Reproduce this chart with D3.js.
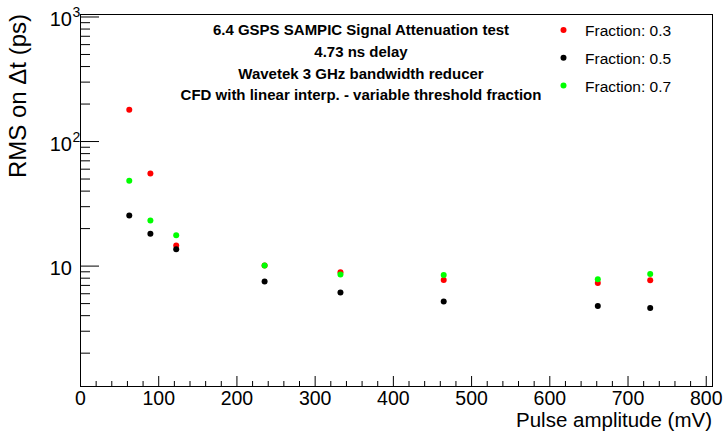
<!DOCTYPE html>
<html lang="en">
<head>
<meta charset="utf-8">
<script src="https://d3js.org/d3.v7.min.js"></script>
<style>
  body { margin: 0; background: #fff; }
  text { font-family: "Liberation Sans", Arial, Helvetica, sans-serif; }
</style>
</head>
<body>
<script>
// pulse amplitude (mV)
var amplitudes = [63, 90, 123, 236, 333, 465, 662, 729];
// RMS on dt (ps) for each CFD threshold fraction
var frac03 = [178, 55, 14.5, 10.0, 8.85, 7.67, 7.26, 7.63];
var frac05 = [25.2, 18.0, 13.5, 7.44, 6.07, 5.14, 4.74, 4.57];
var frac07 = [47.9, 23.0, 17.5, 10.0, 8.47, 8.42, 7.78, 8.58];

var seriesNames = ["Fraction: 0.3", "Fraction: 0.5", "Fraction: 0.7"];
var seriesColors = ["#ff0000", "#000000", "#00ff00"];
var xTicks = [0, 100, 200, 300, 400, 500, 600, 700, 800];
var yMajor = [10, 100, 1000];
var headerLines = [
  "6.4 GSPS SAMPIC Signal Attenuation test",
  "4.73 ns delay",
  "Wavetek 3 GHz bandwidth reducer",
  "CFD with linear interp. - variable threshold fraction"
];

var width = 726, height = 431;
var padL = 80, padR = 712, padT = 14, padB = 386;

var svg = d3.select("body").append("svg")
    .attr("width", width)
    .attr("height", height);

var x = d3.scaleLinear().domain([0, 808]).range([padL, padR]);
var y = d3.scaleLog().domain([1.08, 1047]).range([padB, padT]);

// minor ticks
var xMinor = d3.range(0, 801, 20).filter(function (d) { return d % 100 !== 0; });
var yMinor = [];
[1, 10, 100].forEach(function (dec) {
  for (var k = 2; k <= 9; k++) yMinor.push(dec * k);
});

var gx = svg.append("g").attr("transform", "translate(0," + padB + ")");
gx.call(d3.axisBottom(x).tickValues(xMinor).tickSize(-5).tickFormat(""));
gx.select(".domain").remove();
var gx2 = svg.append("g").attr("transform", "translate(0," + padB + ")");
gx2.call(d3.axisBottom(x).tickValues(xTicks).tickSize(-10).tickPadding(5).tickFormat(d3.format("d")));
gx2.select(".domain").remove();
gx2.selectAll("text").attr("font-size", 19.5).attr("fill", "#000")
    .attr("font-family", "Liberation Sans, Arial, sans-serif");

var gy = svg.append("g").attr("transform", "translate(" + padL + ",0)");
gy.call(d3.axisLeft(y).tickValues(yMinor).tickSize(-10).tickFormat(""));
gy.select(".domain").remove();
var gy2 = svg.append("g").attr("transform", "translate(" + padL + ",0)");
gy2.call(d3.axisLeft(y).tickValues(yMajor).tickSize(-19).tickFormat(""));
gy2.select(".domain").remove();

svg.selectAll(".tick line").attr("stroke", "#000");

// y labels: 10, 10^2, 10^3
var ylab = svg.append("g").attr("font-size", 20).attr("fill", "#000");
yMajor.forEach(function (v) {
  var e = Math.round(Math.log10(v));
  ylab.append("text")
      .attr("x", 72).attr("y", y(v) + 9.5)
      .attr("text-anchor", "end")
      .text("10");
  if (e > 1) {
    ylab.append("text")
        .attr("x", 72.5).attr("y", y(v) + 1)
        .attr("font-size", 14)
        .text(e);
  }
});

// frame
svg.append("rect")
    .attr("x", padL + 0.5).attr("y", padT + 0.5)
    .attr("width", padR - padL).attr("height", padB - padT)
    .attr("fill", "none").attr("stroke", "#000");

// axis titles
svg.append("text")
    .attr("x", padR).attr("y", 426.5)
    .attr("text-anchor", "end")
    .attr("font-size", 20.5)
    .text("Pulse amplitude (mV)");

svg.append("text")
    .attr("transform", "translate(25.5," + padT + ") rotate(-90)")
    .attr("text-anchor", "end")
    .attr("font-size", 24)
    .text("RMS on \u0394t (ps)");

// header text
svg.append("g").selectAll("text")
    .data(headerLines)
    .join("text")
    .attr("x", 361)
    .attr("y", function (d, i) { return 35 + i * 21.8; })
    .attr("text-anchor", "middle")
    .attr("font-size", 15)
    .attr("font-weight", "bold")
    .text(function (d) { return d; });

// points
var series = [frac03, frac05, frac07];
series.forEach(function (vals, s) {
  svg.append("g").selectAll("circle")
      .data(vals)
      .join("circle")
      .attr("cx", function (d, i) { return x(amplitudes[i]); })
      .attr("cy", function (d) { return y(d); })
      .attr("r", 3)
      .attr("fill", seriesColors[s]);
});

// legend
var leg = svg.append("g").selectAll("g")
    .data(seriesNames)
    .join("g")
    .attr("transform", function (d, i) { return "translate(0," + (30 + i * 27.8) + ")"; });
leg.append("circle")
    .attr("cx", 563.5).attr("cy", 0).attr("r", 3)
    .attr("fill", function (d, i) { return seriesColors[i]; });
leg.append("text")
    .attr("x", 585).attr("y", 6)
    .attr("font-size", 15.5)
    .text(function (d) { return d; });
</script>
</body>
</html>
